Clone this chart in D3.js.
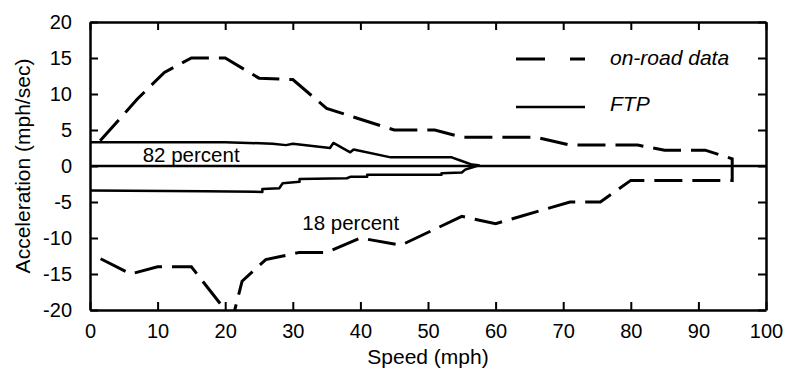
<!DOCTYPE html>
<html>
<head>
<meta charset="utf-8">
<script src="https://cdn.jsdelivr.net/npm/d3@7"></script>
<style>
  body { margin: 0; background: #fff; }
  text { font-family: "Liberation Sans", Arial, sans-serif; fill: #000; }
</style>
</head>
<body>
<div id="chart"></div>
<script>
// on-road data envelope (speed mph, acceleration mph/sec), traced clockwise
const onRoadSpeed = [1.5, 7, 11, 15, 20, 25, 30, 35, 45, 51, 55, 66, 71, 81, 85, 91, 95,
  95, 80, 75.5, 71, 60, 55, 46, 40, 35, 31, 26, 22.5, 21, 20, 15, 10, 6, 1.2];
const onRoadAccel = [3.5, 9.3, 13, 15, 15, 12.2, 12, 8, 5, 5, 4, 4, 2.9, 2.9, 2.2, 2.2, 1,
  -2, -2, -5, -5, -8, -7, -11, -10, -12, -12, -13, -16, -21.5, -20, -14, -14, -15, -12.7];

// FTP envelope
const ftpSpeed = [0, 20, 27, 29, 30, 35.5, 36, 38.5, 39, 44.5, 53.5, 55, 56.5, 57.5, 56.5,
  55.5, 55, 52, 52, 41, 41, 38.5, 38, 31, 31, 28.5, 28, 25.5, 25.5, 17, 0];
const ftpAccel = [3.3, 3.3, 3.1, 2.9, 3.1, 2.5, 3.2, 1.9, 2.3, 1.2, 1.2, 0.7, 0.2, 0.1, -0.2,
  -0.5, -0.9, -1.0, -1.2, -1.2, -1.5, -1.5, -1.7, -1.8, -2.2, -2.4, -3.1, -3.2, -3.6, -3.5, -3.4];

const xTicks = [0, 10, 20, 30, 40, 50, 60, 70, 80, 90, 100];
const yTicks = [-20, -15, -10, -5, 0, 5, 10, 15, 20];

const width = 789, height = 371;
const margin = { top: 22, right: 23, bottom: 61, left: 90 };

const x = d3.scaleLinear().domain([0, 100]).range([margin.left, width - margin.right]);
const y = d3.scaleLinear().domain([-20, 20]).range([height - margin.bottom, margin.top]);

const svg = d3.select("#chart").append("svg")
  .attr("width", width)
  .attr("height", height);

svg.append("defs").append("clipPath").attr("id", "plot")
  .append("rect")
  .attr("x", x(0)).attr("y", y(20))
  .attr("width", x(100) - x(0)).attr("height", y(-20) - y(20));

const line = d3.line().x(d => x(d[0])).y(d => y(d[1]));

// zero line
svg.append("line")
  .attr("x1", x(0)).attr("x2", x(100))
  .attr("y1", y(0)).attr("y2", y(0))
  .attr("stroke", "#000").attr("stroke-width", 2.5);

// FTP
svg.append("path")
  .datum(ftpSpeed.map((s, i) => [s, ftpAccel[i]]))
  .attr("d", line)
  .attr("fill", "none")
  .attr("stroke", "#000")
  .attr("stroke-width", 2.5)
  .attr("stroke-linejoin", "round");

// on-road
svg.append("path")
  .datum(onRoadSpeed.map((s, i) => [s, onRoadAccel[i]]))
  .attr("d", line)
  .attr("clip-path", "url(#plot)")
  .attr("fill", "none")
  .attr("stroke", "#000")
  .attr("stroke-width", 3)
  .attr("stroke-dasharray", "28,10");

// axes, ticks inward on all four sides
const axisStyle = g => {
  g.select(".domain").attr("stroke-width", 2.5);
  g.selectAll(".tick line").attr("stroke-width", 2);
  g.selectAll(".tick text").style("font-size", "20px")
    .style("font-family", "'Liberation Sans', Arial, sans-serif");
};

svg.append("g")
  .attr("transform", `translate(0,${y(-20)})`)
  .call(d3.axisBottom(x).tickValues(xTicks).tickSizeInner(-8).tickSizeOuter(0)
    .tickPadding(14).tickFormat(d => String(d)))
  .call(axisStyle);

svg.append("g")
  .attr("transform", `translate(0,${y(20)})`)
  .call(d3.axisTop(x).tickValues(xTicks).tickSizeInner(-8).tickSizeOuter(0).tickFormat(""))
  .call(axisStyle);

svg.append("g")
  .attr("transform", `translate(${x(0)},0)`)
  .call(d3.axisLeft(y).tickValues(yTicks).tickSizeInner(-8).tickSizeOuter(0)
    .tickPadding(18).tickFormat(d => String(d)))
  .call(axisStyle);

svg.append("g")
  .attr("transform", `translate(${x(100)},0)`)
  .call(d3.axisRight(y).tickValues(yTicks).tickSizeInner(-8).tickSizeOuter(0).tickFormat(""))
  .call(axisStyle);

// labels
svg.append("text")
  .attr("x", (x(0) + x(100)) / 2).attr("y", 364)
  .attr("text-anchor", "middle")
  .style("font-size", "21px")
  .text("Speed (mph)");

svg.append("text")
  .attr("transform", `translate(30,${y(0)}) rotate(-90)`)
  .attr("text-anchor", "middle")
  .style("font-size", "21px")
  .text("Acceleration (mph/sec)");

svg.append("text")
  .attr("x", x(7.8)).attr("y", y(0.55))
  .style("font-size", "20.5px")
  .text("82 percent");

svg.append("text")
  .attr("x", x(31.4)).attr("y", y(-8.9))
  .style("font-size", "20.5px")
  .text("18 percent");

// legend
const legend = svg.append("g");
legend.append("line")
  .attr("x1", 516).attr("x2", 585).attr("y1", 59).attr("y2", 59)
  .attr("stroke", "#000").attr("stroke-width", 3)
  .attr("stroke-dasharray", "29,25");
legend.append("line")
  .attr("x1", 516).attr("x2", 585).attr("y1", 107).attr("y2", 107)
  .attr("stroke", "#000").attr("stroke-width", 2.5);
legend.append("text")
  .attr("x", 610).attr("y", 65)
  .style("font-size", "21px").style("font-style", "italic")
  .text("on-road data");
legend.append("text")
  .attr("x", 610).attr("y", 111)
  .style("font-size", "21px").style("font-style", "italic")
  .text("FTP");
</script>
</body>
</html>
